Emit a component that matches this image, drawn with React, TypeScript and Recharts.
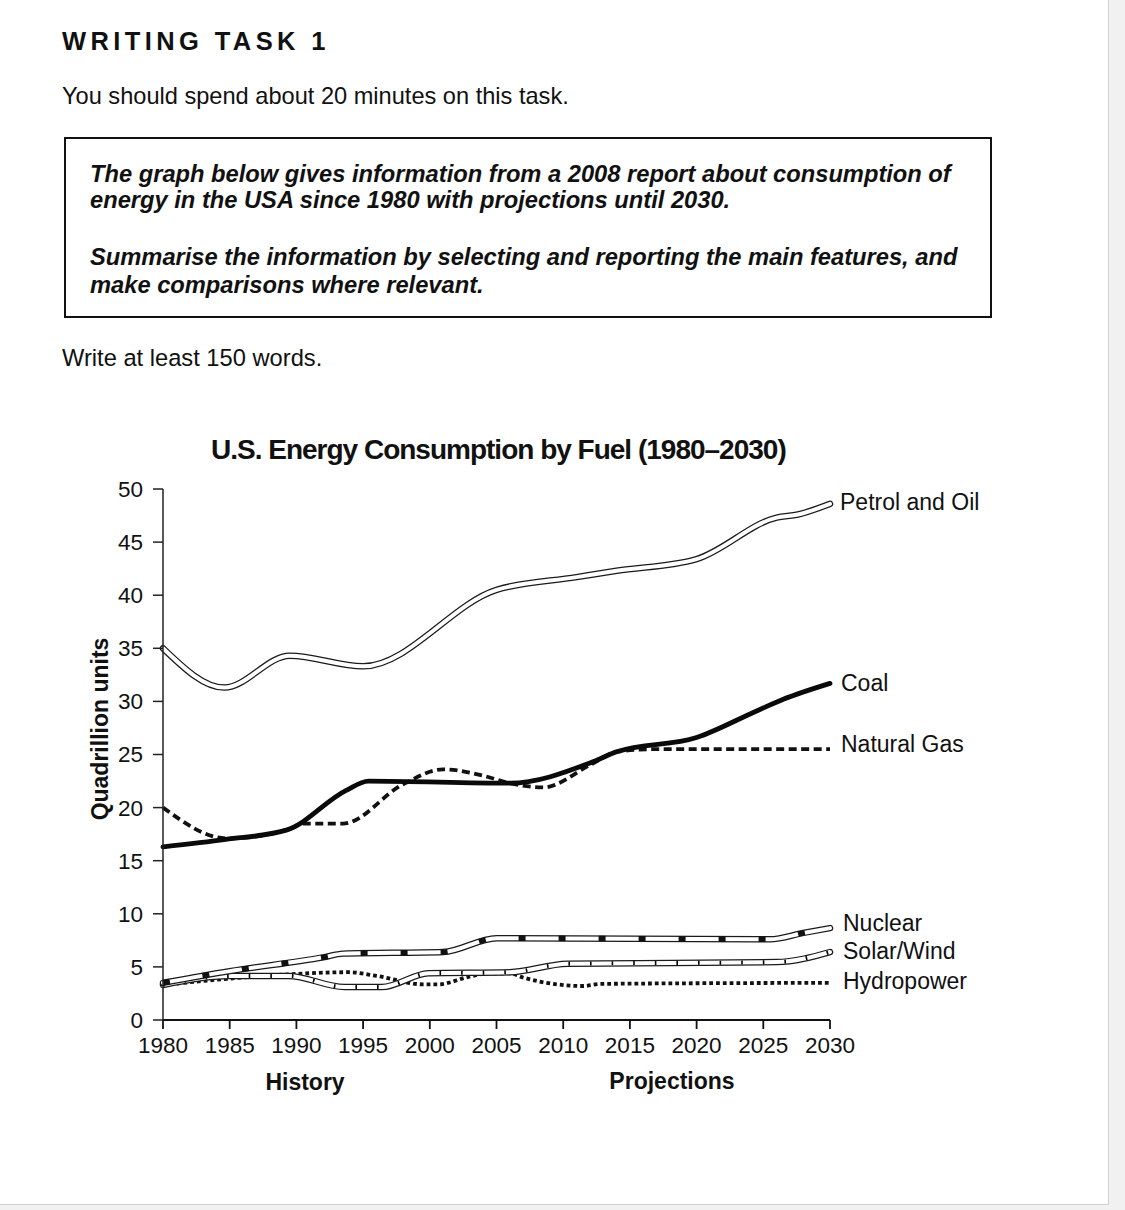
import { LineChart, Line, XAxis, YAxis } from "recharts";

const FONT = '"Liberation Sans", Arial, Helvetica, sans-serif';

type Pt = [number, number];

// year ticks and value ticks
const yearTicks = [1980, 1985, 1990, 1995, 2000, 2005, 2010, 2015, 2020, 2025, 2030];
const valueTicks = [0, 5, 10, 15, 20, 25, 30, 35, 40, 45, 50];

// quadrillion units
const petrolOil: Pt[] = [
  [1980, 35], [1984.6, 31.3], [1989.5, 34.3], [1995, 33.3], [2005, 40.5],
  [2011, 41.7], [2014, 42.3], [2020, 43.4], [2026, 47.3], [2027.6, 47.6], [2030, 48.6],
];
const coal: Pt[] = [
  [1980, 16.3], [1984.7, 17.0], [1989.3, 17.9], [1993.7, 21.6], [1995.4, 22.5],
  [2006, 22.3], [2012, 24.2], [2014, 25.25], [2020, 26.6], [2024.5, 29.1],
  [2026.5, 30.2], [2030, 31.7],
];
const naturalGas: Pt[] = [
  [1980, 20], [1984.8, 17.1], [1989.3, 17.9], [1990.5, 18.5], [1993.5, 18.5],
  [1998, 22.2], [2001, 23.6], [2004, 23], [2006, 22.3], [2008.5, 21.9],
  [2012, 24], [2014, 25.25], [2016.6, 25.5], [2030, 25.5],
];
const nuclear: Pt[] = [
  [1980, 3.5], [1985, 4.6], [1992, 5.9], [1993.5, 6.25], [2001, 6.4],
  [2005, 7.7], [2025.5, 7.6], [2028, 8.2], [2030, 8.65],
];
const solarWind: Pt[] = [
  [1980, 3.3], [1985, 4.15], [1989.4, 4.15], [1993.6, 3.1], [1996.4, 3.1],
  [1999.9, 4.4], [2006, 4.5], [2010.3, 5.3], [2026, 5.45], [2030, 6.4],
];
const hydropower: Pt[] = [
  [1980, 3.3], [1985, 3.9], [1989.4, 4.3], [1993.9, 4.5], [1996, 4.15],
  [1999.6, 3.35], [2000.6, 3.35], [2002.9, 4.06], [2004.4, 4.4], [2006, 4.4],
  [2007, 4.0], [2011.5, 3.2], [2012.8, 3.4], [2030, 3.5],
];

const rows = (pts: Pt[]) => pts.map(([year, value]) => ({ year, value }));

function endLabel(text: string, count: number, dx: number, dy: number) {
  return (p: any) =>
    p.index === count - 1 ? (
      <text
        x={p.x + dx}
        y={p.y + dy}
        dominantBaseline="central"
        fontSize={23}
        fontFamily={FONT}
        fill="#111"
      >
        {text}
      </text>
    ) : (
      <g />
    );
}

// white line with a thin black outline, like the printed hollow lines
function hollow(key: string, pts: Pt[], label: string, dx: number, dy: number) {
  const data = rows(pts);
  return [
    <Line
      key={key + "-out"}
      data={data}
      dataKey="value"
      type="monotone"
      stroke="#1a1a1a"
      strokeWidth={6.5}
      strokeLinecap="round"
      dot={false}
      activeDot={false}
      isAnimationActive={false}
    />,
    <Line
      key={key + "-in"}
      data={data}
      dataKey="value"
      type="monotone"
      stroke="#fff"
      strokeWidth={4}
      strokeLinecap="round"
      dot={false}
      activeDot={false}
      isAnimationActive={false}
      label={endLabel(label, pts.length, dx, dy)}
    />,
  ];
}

const page: React.CSSProperties = {
  position: "absolute",
  whiteSpace: "nowrap",
  fontFamily: FONT,
  color: "#111",
  lineHeight: 1,
};

export default function App() {
  return (
    <div style={{ position: "relative", width: 1125, height: 1210, background: "#f1f1f1", overflow: "hidden" }}>
      <style>{`body{margin:0}`}</style>
      <div
        style={{
          position: "absolute",
          left: 0,
          top: 0,
          width: 1108,
          height: 1204,
          background: "#fff",
          borderRight: "1px solid #d0d0d0",
          borderBottom: "1px solid #d0d0d0",
        }}
      />
      <div style={{ ...page, left: 62, top: 28.5, fontSize: 25.5, fontWeight: 700, letterSpacing: 4.4 }}>
        WRITING TASK 1
      </div>
      <div style={{ ...page, left: 62, top: 85, fontSize: 23.6 }}>
        You should spend about 20 minutes on this task.
      </div>
      <div
        style={{
          position: "absolute",
          left: 64,
          top: 137,
          width: 924,
          height: 177,
          border: "2px solid #111",
        }}
      />
      {[
        ["The graph below gives information from a 2008 report about consumption of", 183],
        ["energy in the USA since 1980 with projections until 2030.", 209],
        ["Summarise the information by selecting and reporting the main features, and", 266],
        ["make comparisons where relevant.", 294],
      ].map(([t, base]) => (
        <div
          key={t as string}
          style={{
            ...page,
            left: 90,
            top: (base as number) - 0.8465 * 23.7,
            fontSize: 23.7,
            fontWeight: 700,
            fontStyle: "italic",
          }}
        >
          {t}
        </div>
      ))}
      <div style={{ ...page, left: 62, top: 347, fontSize: 23.7 }}>Write at least 150 words.</div>

      <div style={{ ...page, left: 211, top: 436.3, fontSize: 28, fontWeight: 700, letterSpacing: -1 }}>
        U.S. Energy Consumption by Fuel (1980–2030)
      </div>
      <div
        style={{
          ...page,
          left: 100,
          top: 729,
          fontSize: 23,
          fontWeight: 700,
          transform: "translate(-50%, -50%) rotate(-90deg)",
        }}
      >
        Quadrillion units
      </div>
      <div style={{ ...page, left: 305, top: 1070.5, fontSize: 23, fontWeight: 700, transform: "translateX(-50%)" }}>
        History
      </div>
      <div style={{ ...page, left: 672, top: 1070, fontSize: 23, fontWeight: 700, transform: "translateX(-50%)" }}>
        Projections
      </div>

      <div style={{ position: "absolute", left: 0, top: 420 }}>
        <LineChart width={1125} height={640} margin={{ top: 69, right: 295, bottom: 0, left: 0 }}>
          <XAxis
            dataKey="year"
            type="number"
            domain={[1980, 2030]}
            ticks={yearTicks}
            interval={0}
            height={40}
            tickSize={9}
            tickMargin={8}
            stroke="#111"
            strokeWidth={1.8}
            tick={{ fontSize: 22.5, fill: "#111", fontFamily: FONT }}
          />
          <YAxis
            type="number"
            domain={[0, 50]}
            ticks={valueTicks}
            interval={0}
            width={163}
            tickSize={10}
            tickMargin={10}
            stroke="#222"
            strokeWidth={1.5}
            tick={{ fontSize: 22.5, fill: "#111", fontFamily: FONT }}
          />

          <Line
            data={rows(hydropower)}
            dataKey="value"
            type="monotone"
            stroke="#111"
            strokeWidth={3.8}
            strokeDasharray="3.8 3"
            dot={false}
            activeDot={false}
            isAnimationActive={false}
            label={endLabel("Hydropower", hydropower.length, 13, -2)}
          />

          {hollow("solar", solarWind, "Solar/Wind", 13, -1)}
          <Line
            data={rows(solarWind)}
            dataKey="value"
            type="monotone"
            stroke="#000"
            strokeWidth={4}
            strokeDasharray="1.6 20"
            dot={false}
            activeDot={false}
            isAnimationActive={false}
          />

          {hollow("nuclear", nuclear, "Nuclear", 13, -5)}
          <Line
            data={rows(nuclear)}
            dataKey="value"
            type="monotone"
            stroke="#111"
            strokeWidth={5.5}
            strokeDasharray="7 33"
            dot={false}
            activeDot={false}
            isAnimationActive={false}
          />

          <Line
            data={rows(naturalGas)}
            dataKey="value"
            type="monotone"
            stroke="#111"
            strokeWidth={3.8}
            strokeDasharray="8 4.5"
            dot={false}
            activeDot={false}
            isAnimationActive={false}
            label={endLabel("Natural Gas", naturalGas.length, 11, -5)}
          />
          <Line
            data={rows(coal)}
            dataKey="value"
            type="monotone"
            stroke="#0a0a0a"
            strokeWidth={4.8}
            strokeLinecap="round"
            dot={false}
            activeDot={false}
            isAnimationActive={false}
            label={endLabel("Coal", coal.length, 11, 0)}
          />

          {hollow("petrol", petrolOil, "Petrol and Oil", 10, -2)}
        </LineChart>
      </div>
    </div>
  );
}
